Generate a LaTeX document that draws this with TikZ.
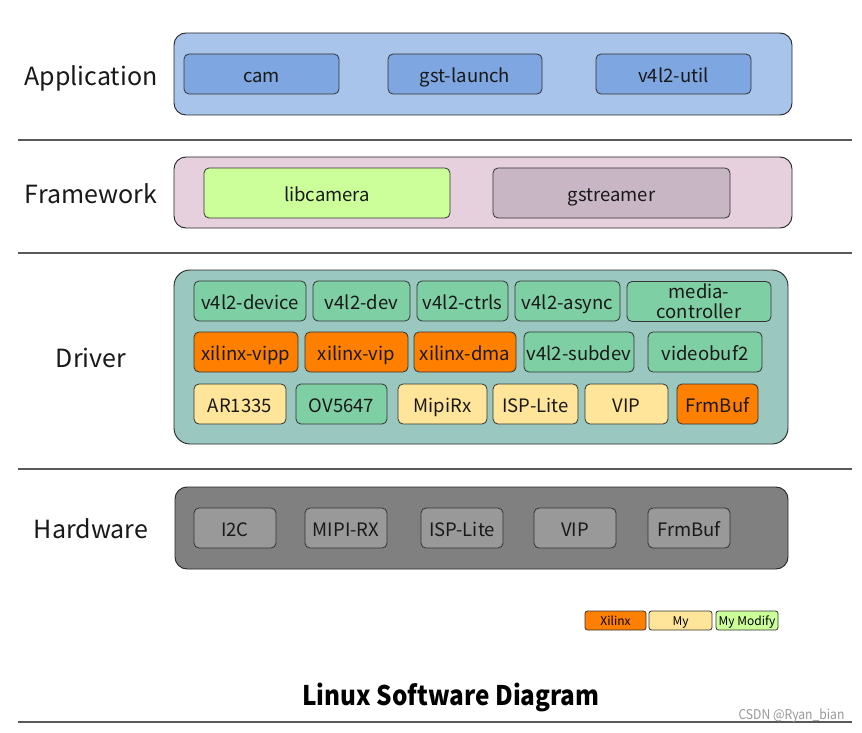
\documentclass[tikz,border=0pt]{standalone}
\usepackage{fontspec}
\setmainfont{Noto Sans CJK SC}
\newfontfamily\titlefont[FakeStretch=0.9]{Noto Sans CJK SC}
\newfontfamily\csdnfont[FakeStretch=0.9]{Noto Sans CJK SC}
\begin{document}
\begin{tikzpicture}[x=1pt,y=-1pt,
  layer/.style={draw=black!85,line width=0.9pt,rounded corners=12pt},
  itembase/.style={draw=black!80,line width=0.8pt,rounded corners=5pt,font=\fontsize{18.5}{19.5}\selectfont,align=center,text=black!90},
  item/.style={itembase,text height=17pt,text depth=0pt},
  lbl/.style={font=\fontsize{25}{26}\selectfont,text=black!90,text height=19pt,text depth=0pt},
  sep/.style={draw=black!65,line width=1.4pt},
  leg/.style={draw=black!80,line width=0.8pt,rounded corners=2.5pt,font=\fontsize{12}{13}\selectfont,text height=10.5pt,text depth=0pt}]
\definecolor{appbg}{HTML}{A9C4EB}
\definecolor{appit}{HTML}{7EA6E0}
\definecolor{fwbg}{HTML}{E6D0DE}
\definecolor{lime}{HTML}{CCFF99}
\definecolor{mauve}{HTML}{C8B6C4}
\definecolor{drvbg}{HTML}{9AC7BF}
\definecolor{grn}{HTML}{7FCFA5}
\definecolor{org}{HTML}{FF8000}
\definecolor{yel}{HTML}{FFE599}
\definecolor{hwbg}{HTML}{808080}
\definecolor{hwit}{HTML}{999999}
\useasboundingbox (0,0) rectangle (862,733);
\fill[white] (0,0) rectangle (862,733);
% separators
\coordinate (s1a) at (18,140); \coordinate (s1b) at (852,140);
\coordinate (s2a) at (18,253); \coordinate (s2b) at (852,253);
\coordinate (s3a) at (18,469); \coordinate (s3b) at (852,469);
\coordinate (s4a) at (18,722); \coordinate (s4b) at (852,722);
\draw[sep] (s1a) -- (s1b);
\draw[sep] (s2a) -- (s2b);
\draw[sep] (s3a) -- (s3b);
\draw[sep] (s4a) -- (s4b);
% Application
\node[lbl] (lapp) at (91,76) {Application};
\draw[layer,fill=appbg] (174,33) rectangle (792,115);
\node[item,fill=appit,minimum width=155pt,minimum height=40pt] (cam) at (261.5,74) {cam};
\node[item,fill=appit,minimum width=154pt,minimum height=40pt] (gst) at (465,74) {gst-launch};
\node[item,fill=appit,minimum width=155pt,minimum height=40pt] (v4u) at (673.5,74) {v4l2-util};
% Framework
\node[lbl] (lfw) at (91,194) {Framework};
\draw[layer,fill=fwbg] (174,157) rectangle (792,228);
\node[item,fill=lime,minimum width=246pt,minimum height=50pt] (libc) at (327,193) {libcamera};
\node[item,fill=mauve,minimum width=237pt,minimum height=50pt] (gstr) at (611.5,193) {gstreamer};
% Driver
\node[lbl] (ldrv) at (91,358) {Driver};
\draw[layer,fill=drvbg,rounded corners=16pt] (174,270) rectangle (788,444);
\tikzset{r1/.style={item,fill=grn,minimum height=40pt,inner sep=1pt},
         r2/.style={item,minimum height=40pt,inner sep=1pt},
         r3/.style={item,minimum height=40pt,inner sep=1pt}}
\node[r1,minimum width=112pt] (d1) at (250,301) {v4l2-device};
\node[r1,minimum width=97pt] (d2) at (361.5,301) {v4l2-dev};
\node[r1,minimum width=91pt] (d3) at (462.5,301) {v4l2-ctrls};
\node[r1,minimum width=105pt] (d4) at (567.5,301) {v4l2-async};
\node[itembase,fill=grn,minimum height=40pt,inner sep=1pt,minimum width=144pt] (d5) at (699,301.5) {media-\\[1pt]controller};
\node[r2,fill=org,minimum width=104pt] (e1) at (246,352) {xilinx-vipp};
\node[r2,fill=org,minimum width=103pt] (e2) at (356.5,352) {xilinx-vip};
\node[r2,fill=org,minimum width=102pt] (e3) at (465,352) {xilinx-dma};
\node[r2,fill=grn,minimum width=110pt] (e4) at (579,352) {v4l2-subdev};
\node[r2,fill=grn,minimum width=114pt] (e5) at (705,352) {videobuf2};
\node[r3,fill=yel,minimum width=92pt] (f1) at (240,404) {AR1335};
\node[r3,fill=grn,minimum width=91pt] (f2) at (341.5,404) {OV5647};
\node[r3,fill=yel,minimum width=89pt] (f3) at (442.5,404) {MipiRx};
\node[r3,fill=yel,minimum width=85pt] (f4) at (535.5,404) {ISP-Lite};
\node[r3,fill=yel,minimum width=83pt] (f5) at (626.5,404) {VIP};
\node[r3,fill=org,minimum width=81pt] (f6) at (717.5,404) {FrmBuf};
% Hardware
\node[lbl] (lhw) at (91,529) {Hardware};
\draw[layer,fill=hwbg] (175,487) rectangle (788,569);
\tikzset{hw/.style={item,fill=hwit,minimum width=82pt,minimum height=40pt}}
\node[hw] (h1) at (235,528) {I2C};
\node[hw] (h2) at (346,528) {MIPI-RX};
\node[hw] (h3) at (462,528) {ISP-Lite};
\node[hw] (h4) at (575,528) {VIP};
\node[hw] (h5) at (689,528) {FrmBuf};
% Legend
\node[leg,fill=org,minimum width=61pt,minimum height=19pt,inner sep=0pt] (g1) at (615.5,620.5) {Xilinx};
\node[leg,fill=yel,minimum width=63pt,minimum height=19pt,inner sep=0pt] (g2) at (680.5,620.5) {My};
\node[leg,fill=lime,minimum width=62pt,minimum height=19pt,inner sep=0pt] (g3) at (747,620.5) {My Modify};
% Title
\node[font=\titlefont\fontsize{27}{29}\selectfont\bfseries,text height=25pt,text depth=0pt] (title) at (451,693) {Linux Software Diagram};
\node[font=\csdnfont\fontsize{13.5}{14}\selectfont,text=black!40,anchor=east] (csdn) at (848,716) {CSDN @Ryan\_bian};
\end{tikzpicture}
\end{document}
